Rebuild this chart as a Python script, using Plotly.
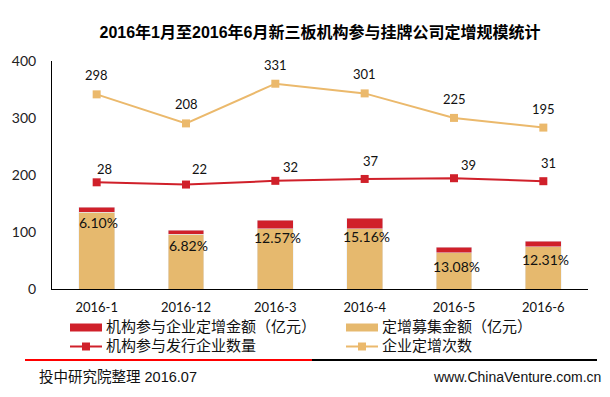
import plotly.graph_objects as go

# ---------------- data ----------------
categories = ["2016-1", "2016-12", "2016-3", "2016-4", "2016-5", "2016-6"]
raise_amount = [134.8, 96.3, 105.6, 105.5, 63.9, 73.7]      # 定增募集金额（亿元）
inst_amount = [8.8, 7.0, 15.2, 18.8, 9.6, 10.3]             # 机构参与企业定增金额（亿元）
inst_pct_labels = ["6.10%", "6.82%", "12.57%", "15.16%", "13.08%", "12.31%"]
inst_company_count = [28, 22, 32, 37, 39, 31]                # 机构参与发行企业数量
placement_count = [298, 208, 331, 301, 225, 195]             # 企业定增次数
y_ticks = [0, 100, 200, 300, 400]

# ---------------- styles ----------------
RED = "#D0202A"
TAN = "#E6B96E"
ORANGE = "#EBB96C"
NUM_FONT = "Lato, Open Sans, sans-serif"
CJK_FONT = "Liberation Sans, Noto Sans CJK SC, sans-serif"

W, H = 610, 397
ML, MR, MT, MB = 52, 22, 61, 108
PW, PH = W - ML - MR, H - MT - MB


def px_x(p):
    return (p - ML) / PW


def px_y(p):
    return (H - MB - p) / PH


# label offsets (pixels)
count_label_dx = [8, 13, 15, 6, 14, 5]
count_label_dy = [13, 16, 14, 18, 13, 18]
pct_label_dy = [-10, -11, -9, -8, -14, -13]

fig = go.Figure()

fig.add_trace(go.Bar(x=categories, y=raise_amount, marker_color=TAN, width=0.4,
                     name="定增募集金额（亿元）"))
fig.add_trace(go.Bar(x=categories, y=inst_amount, marker_color=RED, width=0.4,
                     name="机构参与企业定增金额（亿元）"))
fig.add_trace(go.Scatter(x=categories, y=inst_company_count, yaxis="y2",
                         mode="lines+markers", line=dict(color=RED, width=2),
                         marker=dict(symbol="square", size=8, color=RED),
                         name="机构参与发行企业数量"))
fig.add_trace(go.Scatter(x=categories, y=placement_count, yaxis="y3",
                         mode="lines+markers", line=dict(color=ORANGE, width=2),
                         marker=dict(symbol="square", size=8, color=ORANGE),
                         name="企业定增次数"))

annotations = []
for i, c in enumerate(categories):
    annotations.append(dict(x=c, y=placement_count[i], xref="x", yref="y3",
                            text=str(placement_count[i]), showarrow=False, yshift=19,
                            font=dict(family=NUM_FONT, size=13, color="#111")))
    annotations.append(dict(x=c, y=inst_company_count[i], xref="x", yref="y2",
                            text=str(inst_company_count[i]), showarrow=False,
                            xshift=count_label_dx[i], yshift=count_label_dy[i],
                            font=dict(family=NUM_FONT, size=13, color="#111")))
    annotations.append(dict(x=c, y=raise_amount[i], xref="x", yref="y",
                            text=inst_pct_labels[i], showarrow=False,
                            xshift=2, yshift=pct_label_dy[i],
                            font=dict(family=NUM_FONT, size=14, color="#111")))

# ---- manual legend (two columns, two rows) ----
legend_items = [
    # (name, kind, color, swatch_left_px, row_center_px)
    ("机构参与企业定增金额（亿元）", "bar", RED, 70, 327.5),
    ("定增募集金额（亿元）", "bar", TAN, 346, 327.5),
    ("机构参与发行企业数量", "line", RED, 70, 346.5),
    ("企业定增次数", "line", ORANGE, 346, 346.5),
]
shapes = []
for name, kind, color, sx, cy in legend_items:
    if kind == "bar":
        shapes.append(dict(type="rect", xref="paper", yref="paper",
                           x0=px_x(sx), x1=px_x(sx + 32), y0=px_y(cy - 4), y1=px_y(cy + 4),
                           fillcolor=color, line=dict(width=0)))
    else:
        shapes.append(dict(type="line", xref="paper", yref="paper",
                           x0=px_x(sx), x1=px_x(sx + 32), y0=px_y(cy), y1=px_y(cy),
                           line=dict(color=color, width=2)))
        shapes.append(dict(type="rect", xref="paper", yref="paper",
                           x0=px_x(sx + 12), x1=px_x(sx + 20), y0=px_y(cy - 4), y1=px_y(cy + 4),
                           fillcolor=color, line=dict(width=0)))
    annotations.append(dict(x=px_x(sx + 34), y=px_y(cy - 1), xref="paper", yref="paper",
                            xanchor="left", yanchor="middle", showarrow=False, text=name,
                            font=dict(family=CJK_FONT, size=15, color="#111")))

# ---- divider and footer ----
shapes.append(dict(type="line", xref="paper", yref="paper", x0=px_x(25), x1=px_x(312),
                   y0=px_y(360), y1=px_y(360), line=dict(color="#FF0000", width=2)))
shapes.append(dict(type="line", xref="paper", yref="paper", x0=px_x(312), x1=px_x(597),
                   y0=px_y(360), y1=px_y(360), line=dict(color="#000000", width=2)))

annotations.append(dict(x=px_x(37), y=px_y(377), xref="paper", yref="paper",
                        xanchor="left", yanchor="middle", showarrow=False,
                        text="投中研究院整理 2016.07",
                        font=dict(family=CJK_FONT, size=14.5, color="#111")))
annotations.append(dict(x=px_x(603), y=px_y(377), xref="paper", yref="paper",
                        xanchor="right", yanchor="middle", showarrow=False,
                        text="www.ChinaVenture.com.cn",
                        font=dict(family=CJK_FONT, size=14, color="#111")))

fig.update_layout(
    width=W, height=H,
    margin=dict(l=ML, r=MR, t=MT, b=MB),
    paper_bgcolor="white", plot_bgcolor="white",
    barmode="stack", showlegend=False,
    title=dict(text="<b>2016年1月至2016年6月新三板机构参与挂牌公司定增规模统计</b>",
               x=320 / W, xref="container", xanchor="center",
               y=1 - 32 / H, yref="container", yanchor="middle",
               font=dict(family=CJK_FONT, size=16, color="#000")),
    xaxis=dict(type="category", categoryorder="array", categoryarray=categories,
               range=[-0.5, len(categories) - 0.5],
               showline=True, linecolor="#000", linewidth=1, showgrid=False,
               ticks="", ticklabelstandoff=6,
               tickfont=dict(family=NUM_FONT, size=13, color="#111")),
    yaxis=dict(range=[0, 400], tickvals=y_ticks, showline=True, linecolor="#000",
               linewidth=1, showgrid=False, zeroline=False, ticks="",
               ticklabelstandoff=12,
               tickfont=dict(family=NUM_FONT, size=14, color="#222")),
    yaxis2=dict(range=[-258.6, 353.9], overlaying="y", visible=False),
    yaxis3=dict(range=[-305.3, 401.4], overlaying="y", visible=False),
    annotations=annotations,
    shapes=shapes,
)

fig.write_html("out.html", config={"displayModeBar": False},
               post_script="document.body.style.margin='0';")
